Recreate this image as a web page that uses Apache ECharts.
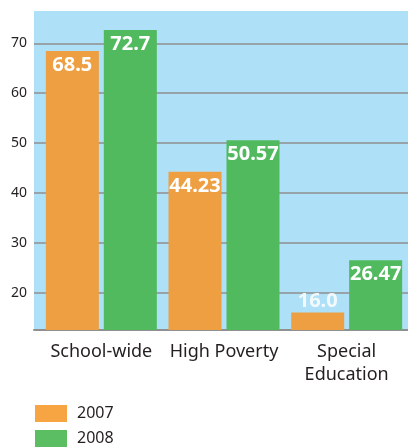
<!DOCTYPE html>
<html>
<head>
<meta charset="utf-8">
<script src="https://cdn.jsdelivr.net/npm/echarts@6/dist/echarts.min.js"></script>
<style>html,body{margin:0;padding:0;background:#fff;}#c{width:408px;height:448px;}</style>
</head>
<body>
<div id="c"></div>
<script>
const categories = ['School-wide', 'High Poverty', 'Special\nEducation'];
const seriesNames = ['2007', '2008'];
const values2007 = [68.5, 44.23, 16.0];
const values2008 = [72.7, 50.57, 26.47];
const labels2007 = ['68.5', '44.23', '16.0'];
const labels2008 = ['72.7', '50.57', '26.47'];
const yTicks = [20, 30, 40, 50, 60, 70];
const yMin = 12.5, yMax = 76.5;

const ORANGE = '#ee9f41', GREEN = '#51ba5f';
const FONT = 'Noto Sans';

const chart = echarts.init(document.getElementById('c'), null, {renderer: 'canvas'});

function mkData(vals, labels) {
  return vals.map((v, i) => {
    const d = {value: v, labelText: labels[i]};
    if (v - yMin < 8) {
      d.label = {position: 'top', distance: 0, color: '#f2f9fd'};
    }
    return d;
  });
}

const labelBase = {
  show: true,
  position: 'insideTop',
  distance: 3,
  color: '#ffffff',
  fontFamily: FONT,
  fontWeight: 'bold',
  fontSize: 20,
  lineHeight: 22,
  formatter: p => p.data.labelText
};

chart.setOption({
  animation: false,
  textStyle: {fontFamily: FONT},
  grid: [
    {left: 34, right: 0, top: 11, bottom: 118, show: true, backgroundColor: '#aee0f7', borderWidth: 0},
    {left: 40, right: 0, top: 11, bottom: 118}
  ],
  legend: {
    orient: 'vertical',
    left: 35,
    top: 405,
    padding: 0,
    itemWidth: 32,
    itemHeight: 17,
    itemGap: 8,
    icon: 'rect',
    textStyle: {fontFamily: FONT, fontSize: 16, color: '#231f20', padding: [0, 0, 0, 5]},
    data: [
      {name: seriesNames[0], itemStyle: {color: '#f7a443'}},
      {name: seriesNames[1], itemStyle: {color: '#5cbe62'}}
    ]
  },
  xAxis: [
    {
      gridIndex: 0, type: 'category', data: categories,
      axisLine: {show: true, lineStyle: {color: '#909090', width: 2}},
      axisTick: {show: false}, axisLabel: {show: false}, splitLine: {show: false}
    },
    {
      gridIndex: 1, type: 'category', data: categories,
      axisLine: {show: false}, axisTick: {show: false},
      axisLabel: {show: true, interval: 0, hideOverlap: false, margin: 10, fontFamily: FONT, fontSize: 18, lineHeight: 23, color: '#231f20'}
    }
  ],
  yAxis: [
    {
      gridIndex: 0, type: 'value', min: yMin, max: yMax,
      axisLine: {show: false},
      axisTick: {show: false, customValues: yTicks},
      axisLabel: {show: true, customValues: yTicks, margin: 7, fontFamily: FONT, fontSize: 14, color: '#231f20'},
      splitLine: {show: true, lineStyle: {color: '#8f8f8f', width: 1.5}}
    },
    {
      gridIndex: 1, type: 'value', min: yMin, max: yMax, show: false,
      splitLine: {show: false}
    }
  ],
  series: [
    {
      name: seriesNames[0], type: 'bar', xAxisIndex: 1, yAxisIndex: 1,
      barWidth: 53, barGap: '9.4%',
      itemStyle: {color: ORANGE},
      label: labelBase,
      data: mkData(values2007, labels2007)
    },
    {
      name: seriesNames[1], type: 'bar', xAxisIndex: 1, yAxisIndex: 1,
      barWidth: 53, barGap: '9.4%',
      itemStyle: {color: GREEN},
      label: labelBase,
      data: mkData(values2008, labels2008)
    }
  ]
});
</script>
</body>
</html>
